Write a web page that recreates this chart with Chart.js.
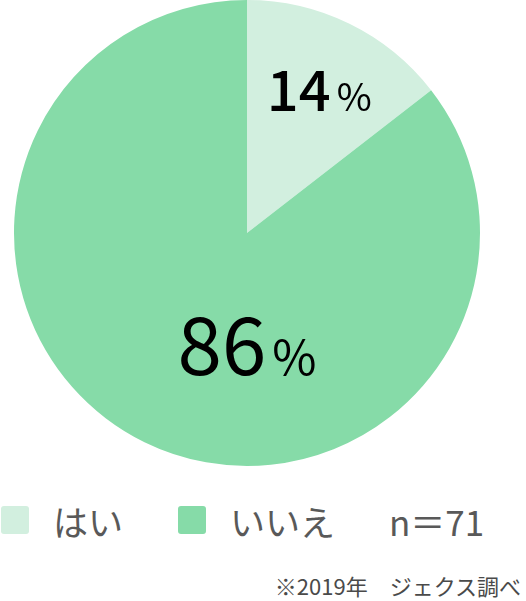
<!DOCTYPE html>
<html><head><meta charset="utf-8">
<script src="https://cdn.jsdelivr.net/npm/chart.js@4/dist/chart.umd.min.js"></script>
<style>
html,body{margin:0;padding:0;background:#fff;}
#wrap{position:relative;width:526px;height:601px;overflow:hidden;font-family:"Noto Sans CJK JP","Noto Sans",sans-serif;}
#c{position:absolute;left:0;top:0;}
.leg{position:absolute;top:498px;height:44px;display:flex;align-items:center;color:#595959;font-size:35px;white-space:nowrap;}
.box{width:28px;height:28px;border-radius:3px;display:inline-block;}
#foot{position:absolute;right:5px;top:570px;line-height:30px;font-size:22px;color:#4a4a4a;white-space:nowrap;}
</style></head>
<body>
<div id="wrap">
<canvas id="c" width="526" height="470"></canvas>
<div class="leg" style="left:1px"><span class="box" id="b0"></span><span id="t0" style="margin-left:24px"></span></div>
<div class="leg" style="left:178px"><span class="box" id="b1"></span><span id="t1" style="margin-left:24px"></span></div>
<div class="leg" style="left:389px"><span id="nlab"></span></div>
<div id="foot"></div>
</div>
<script>
const categories = ["はい", "いいえ"];
const values = [14.5, 85.5];
const valueLabels = ["14", "86"];
const colors = ["#d2efdf", "#86dba8"];
const sampleLabel = "n＝71";
const footnote = "※2019年　ジェクス調べ";

document.getElementById('t0').textContent = categories[0];
document.getElementById('t1').textContent = categories[1];
document.getElementById('b0').style.background = colors[0];
document.getElementById('b1').style.background = colors[1];
document.getElementById('nlab').textContent = sampleLabel;
document.getElementById('foot').textContent = footnote;

const labelPlugin = {
  id: 'pctLabels',
  afterDatasetsDraw(chart) {
    const ctx = chart.ctx;
    const meta = chart.getDatasetMeta(0);
    const styles = [
      {dx: 0.31, dy: -0.525, numFont: '500 56px "Noto Sans CJK JP"', pctFont: '38px "Noto Sans CJK JP"', gap: 6},
      {dx: 0.0, dy: 0.61, numFont: '80px "Noto Sans CJK JP"', pctFont: '48px "Noto Sans CJK JP"', gap: 6}
    ];
    meta.data.forEach((arc, i) => {
      const p = arc.getProps(['x','y','outerRadius'], true);
      const s = styles[i];
      const num = valueLabels[i];
      ctx.save();
      ctx.fillStyle = '#000';
      ctx.textBaseline = 'alphabetic';
      ctx.textAlign = 'left';
      ctx.font = s.numFont;
      const w1 = ctx.measureText(num).width;
      ctx.font = s.pctFont;
      const w2 = ctx.measureText('%').width;
      const total = w1 + s.gap + w2;
      const cx = p.x + s.dx * p.outerRadius;
      const by = p.y + s.dy * p.outerRadius;
      let x = cx - total / 2;
      ctx.font = s.numFont;
      ctx.fillText(num, x, by);
      ctx.font = s.pctFont;
      ctx.fillText('%', x + w1 + s.gap, by);
      ctx.restore();
    });
  }
};

new Chart(document.getElementById('c'), {
  type: 'pie',
  data: {
    labels: categories,
    datasets: [{ data: values, backgroundColor: colors, borderWidth: 0 }]
  },
  options: {
    responsive: false,
    animation: false,
    devicePixelRatio: 1,
    layout: { padding: { left: 1, right: 33, top: 0, bottom: 4 } },
    plugins: { legend: { display: false }, tooltip: { enabled: false } }
  },
  plugins: [labelPlugin]
});
</script>
</body></html>
